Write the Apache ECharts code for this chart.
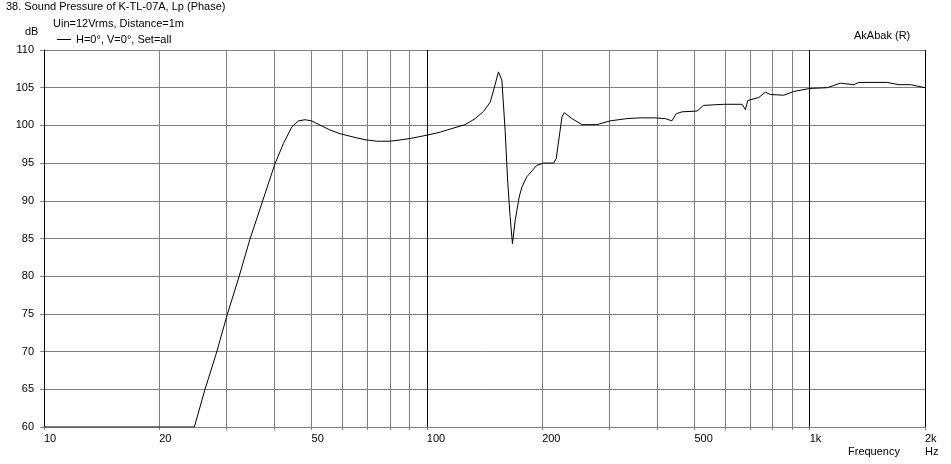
<!DOCTYPE html>
<html>
<head>
<meta charset="utf-8">
<script src="https://cdn.jsdelivr.net/npm/echarts@6/dist/echarts.min.js"></script>
<style>
html,body{margin:0;padding:0;background:#fff;}
#c{width:951px;height:464px;}
</style>
</head>
<body>
<div id="c"></div>
<script>
// Frequency (Hz) and sound pressure level (dB)
var freqs = [10, 24.7, 26.3, 28.2, 30.1, 32.3, 34.5, 37.2, 40.1, 42.2, 44.4, 46.2, 48.1, 50, 55.8, 59.3, 64.9, 68.9, 73.9, 80.1, 86, 91.3, 100, 108.3, 113, 125.9, 133.7, 140.6, 146.4, 150.2, 153.8, 157.0, 160.1, 162.7, 165.0, 167.3, 170.1, 174.2, 177.0, 182.5, 193.7, 201.7, 214.2, 217.7, 225.3, 228.5, 239.3, 254.2, 278, 301, 333, 361, 395, 419.5, 436.5, 448, 464, 507.6, 528, 596, 666, 679, 689, 736, 766, 789, 855, 908, 1000, 1111, 1203, 1303, 1343, 1593, 1709, 1834, 2000];
var spl = [60, 60, 64.9, 69.8, 74.9, 79.9, 84.9, 89.9, 94.9, 97.6, 99.8, 100.6, 100.75, 100.6, 99.4, 98.9, 98.4, 98.1, 97.9, 97.9, 98.1, 98.3, 98.7, 99.1, 99.4, 100.1, 100.9, 101.85, 103.1, 105.1, 107.1, 106.0, 99.3, 92.3, 87.9, 84.3, 87.4, 90.5, 91.8, 93.2, 94.7, 95.0, 95.0, 95.6, 101.1, 101.7, 100.9, 100.1, 100.1, 100.6, 100.9, 101.0, 101.0, 100.9, 100.6, 101.55, 101.8, 101.9, 102.65, 102.8, 102.8, 102.1, 103.3, 103.7, 104.4, 104.1, 104.0, 104.5, 104.9, 105.0, 105.6, 105.4, 105.7, 105.7, 105.4, 105.4, 105.0];
var gridFreqs = [10, 20, 30, 40, 50, 60, 70, 80, 90, 100, 200, 300, 400, 500, 600, 700, 800, 900, 1000, 2000];
var majorFreqs = [10, 100, 1000, 2000];
var labelFreqs = [10, 20, 50, 100, 200, 500, 1000, 2000];
var labelTexts = ['10', '20', '50', '100', '200', '500', '1k', '2k'];
var yMin = 60, yMax = 110, yStep = 5;
var seriesName = 'H=0°, V=0°, Set=all';

var FONT = '"Liberation Sans", Arial, sans-serif';
var GRAY = '#808080';

var data = freqs.map(function (f, i) { return [Math.log10(f), spl[i]]; });
var gridColors = gridFreqs.map(function (f) { return majorFreqs.indexOf(f) >= 0 ? '#000' : GRAY; });

var chart = echarts.init(document.getElementById('c'));
var txt = { fontFamily: FONT, fontSize: 11, color: '#000', fontWeight: 'normal' };
function t(text, left, top) {
  return { text: text, left: left, top: top, padding: 0, textStyle: txt };
}
chart.setOption({
  animation: false,
  backgroundColor: '#fff',
  title: [
    t('38. Sound Pressure of K-TL-07A, Lp (Phase)', 6, 1),
    t('Uin=12Vrms, Distance=1m', 53, 18),
    t('dB', 25, 26),
    t('AkAbak (R)', 854, 30),
    t('Frequency', 848, 446),
    t('Hz', 925, 446)
  ],
  legend: {
    left: 57, top: 34, padding: 0, itemGap: 0,
    itemWidth: 14, itemHeight: 1,
    icon: 'rect',
    itemStyle: { color: '#000', borderWidth: 0 },
    textStyle: { fontFamily: FONT, fontSize: 11, color: '#000', padding: [0, 0, 0, 0] },
    data: [seriesName]
  },
  grid: { left: 44, right: 26, top: 50, bottom: 37, containLabel: false },
  xAxis: {
    type: 'value',
    min: Math.log10(10), max: Math.log10(2000),
    axisLine: { show: true, lineStyle: { color: GRAY, width: 1 } },
    axisTick: { show: true, length: 3, lineStyle: { color: GRAY }, customValues: gridFreqs.map(function (f) { return Math.log10(f); }) },
    splitLine: { show: true, lineStyle: { color: gridColors, width: 1 } },
    axisLabel: {
      customValues: labelFreqs.map(function (f) { return Math.log10(f); }),
      formatter: function (v) {
        var f = Math.round(Math.pow(10, v));
        var i = labelFreqs.indexOf(f);
        return i >= 0 ? labelTexts[i] : '';
      },
      align: 'left', margin: 6, padding: [0, 0, 0, 0],
      fontFamily: FONT, fontSize: 11, color: '#000',
      showMinLabel: true, showMaxLabel: true
    }
  },
  yAxis: {
    type: 'value', min: yMin, max: yMax, interval: yStep,
    axisLine: { show: true, lineStyle: { color: '#000', width: 1 } },
    axisTick: { show: true, length: 4, lineStyle: { color: GRAY } },
    splitLine: { show: true, lineStyle: { color: GRAY, width: 1 } },
    axisLabel: { margin: 10, fontFamily: FONT, fontSize: 11, color: '#000', padding: [0, 0, 10, 0] }
  },
  series: [{
    name: seriesName,
    type: 'line',
    data: data,
    symbol: 'none',
    smooth: false,
    z: 5,
    lineStyle: { color: '#000', width: 1 },
    itemStyle: { color: '#000' }
  }]
});
</script>
</body>
</html>
